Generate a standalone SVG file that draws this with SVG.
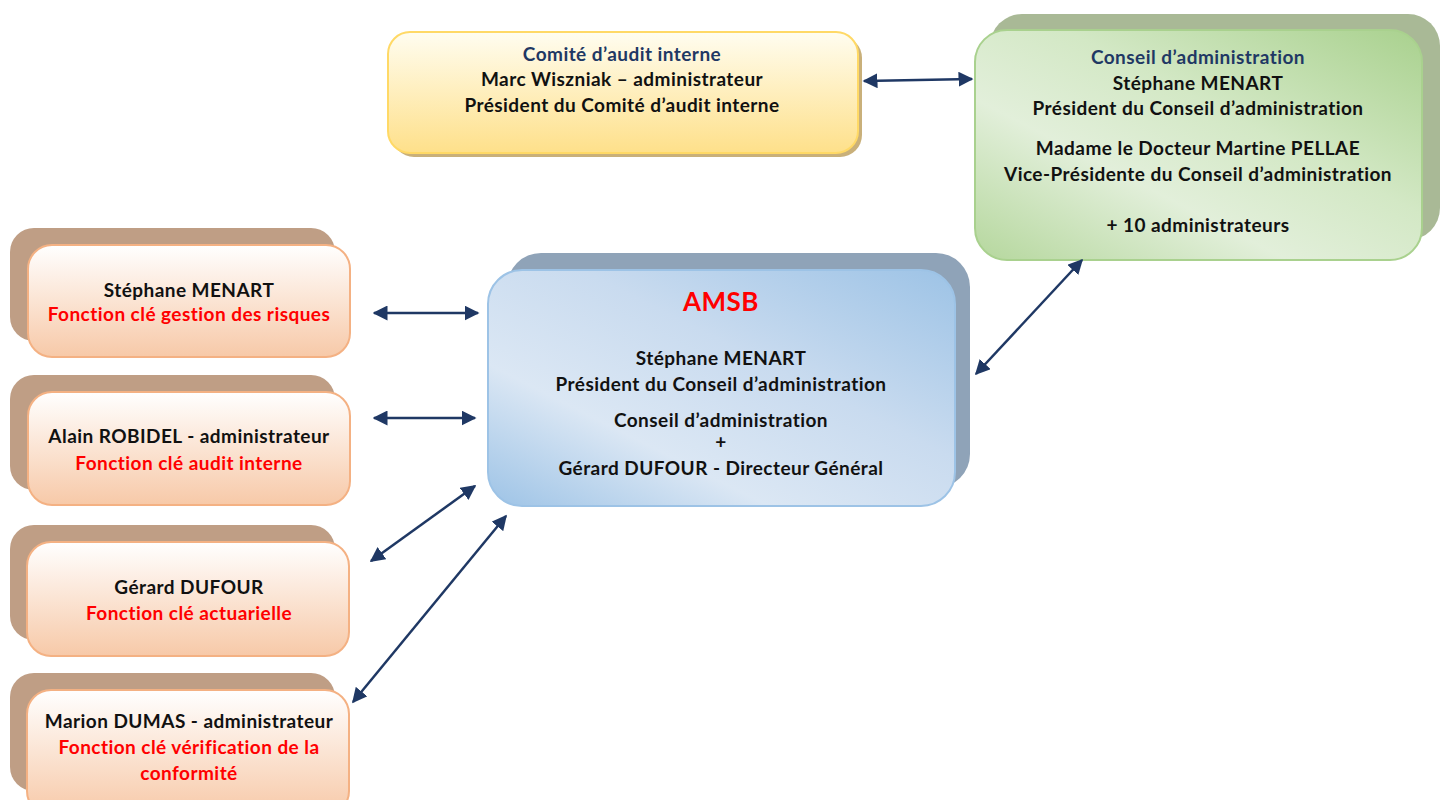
<svg xmlns="http://www.w3.org/2000/svg" width="1448" height="800" viewBox="0 0 1448 800">
<defs>
<linearGradient id="gY" x1="0" y1="0" x2="0" y2="1"><stop offset="0" stop-color="#fffdf0"/><stop offset="1" stop-color="#fee08a"/></linearGradient>
<linearGradient id="gG" x1="0" y1="1" x2="1" y2="0"><stop offset="0" stop-color="#b5d79d"/><stop offset="0.35" stop-color="#e2efda"/><stop offset="0.6" stop-color="#d3e8c5"/><stop offset="1" stop-color="#a9d18e"/></linearGradient>
<linearGradient id="gB" x1="0" y1="1" x2="1" y2="0"><stop offset="0" stop-color="#9dc3e6"/><stop offset="0.3" stop-color="#dbe7f4"/><stop offset="0.6" stop-color="#c9dbef"/><stop offset="1" stop-color="#9dc3e6"/></linearGradient>
<linearGradient id="gO" x1="0" y1="0" x2="0" y2="1"><stop offset="0" stop-color="#ffffff"/><stop offset="1" stop-color="#f7c9a8"/></linearGradient>
<marker id="ah" viewBox="0 0 10 10" refX="9" refY="5" markerWidth="6" markerHeight="6" orient="auto-start-reverse" markerUnits="strokeWidth"><path d="M0,0 L10,5 L0,10 z" fill="#1f3864"/></marker>
</defs>
<style>
text{font-family:Lato,"Liberation Sans",sans-serif;font-weight:bold;font-size:19px;letter-spacing:0.45px;font-variant-ligatures:none;text-anchor:middle;fill:#111}
.navy{fill:#1f3864}
.red{fill:#ff0000}
.big{font-size:26px}
.plateO{fill:#bf9e85}
.frontO{fill:url(#gO);stroke:#f4b183;stroke-width:2}
.con{stroke:#1f3864;stroke-width:2.5;fill:none;marker-start:url(#ah);marker-end:url(#ah)}
</style>
<rect width="1448" height="800" fill="#fff"/>

<g id="comite">
<rect x="392" y="36" width="470" height="121" rx="22" fill="#c9b07a"/>
<rect x="388" y="32" width="470" height="121" rx="22" fill="url(#gY)" stroke="#ffd966" stroke-width="2"/>
<text x="622" y="61" class="navy">Comité d’audit interne</text>
<text x="622" y="86">Marc Wiszniak – administrateur</text>
<text x="622" y="112">Président du Comité d’audit interne</text>
</g>

<g id="conseil">
<rect x="990" y="14" width="450" height="226" rx="32" fill="#a9b996"/>
<rect x="975" y="30" width="447" height="230" rx="32" fill="url(#gG)" stroke="#a9d18e" stroke-width="2"/>
<text x="1198" y="64" class="navy">Conseil d’administration</text>
<text x="1198" y="90">Stéphane MENART</text>
<text x="1198" y="115">Président du Conseil d’administration</text>
<text x="1198" y="155">Madame le Docteur Martine PELLAE</text>
<text x="1198" y="181">Vice-Présidente du Conseil d’administration</text>
<text x="1198" y="232">+ 10 administrateurs</text>
</g>

<g id="amsb">
<rect x="507" y="253" width="463" height="235" rx="34" fill="#8fa3b8"/>
<rect x="488" y="270" width="467" height="236" rx="34" fill="url(#gB)" stroke="#9dc3e6" stroke-width="2"/>
<text x="721" y="311" class="red big">AMSB</text>
<text x="721" y="365">Stéphane MENART</text>
<text x="721" y="391">Président du Conseil d’administration</text>
<text x="721" y="427">Conseil d’administration</text>
<text x="721" y="449">+</text>
<text x="721" y="475">Gérard DUFOUR - Directeur Général</text>
</g>

<g id="fk1">
<rect x="10" y="228" width="325" height="113" rx="24" class="plateO"/>
<rect x="28" y="245" width="322" height="112" rx="24" class="frontO"/>
<text x="189" y="297">Stéphane MENART</text>
<text x="189" y="321" class="red">Fonction clé gestion des risques</text>
</g>

<g id="fk2">
<rect x="10" y="375" width="325" height="115" rx="24" class="plateO"/>
<rect x="28" y="392" width="322" height="113" rx="24" class="frontO"/>
<text x="189" y="443">Alain ROBIDEL - administrateur</text>
<text x="189" y="470" class="red">Fonction clé audit interne</text>
</g>

<g id="fk3">
<rect x="10" y="525" width="325" height="115" rx="24" class="plateO"/>
<rect x="27" y="542" width="322" height="114" rx="24" class="frontO"/>
<text x="189" y="594">Gérard DUFOUR</text>
<text x="189" y="620" class="red">Fonction clé actuarielle</text>
</g>

<g id="fk4">
<rect x="10" y="673" width="325" height="118" rx="24" class="plateO"/>
<rect x="27" y="690" width="322" height="125" rx="24" class="frontO"/>
<text x="189" y="728">Marion DUMAS - administrateur</text>
<text x="189" y="754" class="red">Fonction clé vérification de la</text>
<text x="189" y="780" class="red">conformité</text>
</g>

<g id="connectors">
<line x1="864" y1="81" x2="972" y2="79" class="con"/>
<line x1="374" y1="313" x2="478" y2="313" class="con"/>
<line x1="374" y1="418" x2="475" y2="418" class="con"/>
<line x1="371" y1="561" x2="475" y2="486" class="con"/>
<line x1="353" y1="702" x2="506" y2="516" class="con"/>
<line x1="976" y1="374" x2="1082" y2="260" class="con"/>
</g>
</svg>
